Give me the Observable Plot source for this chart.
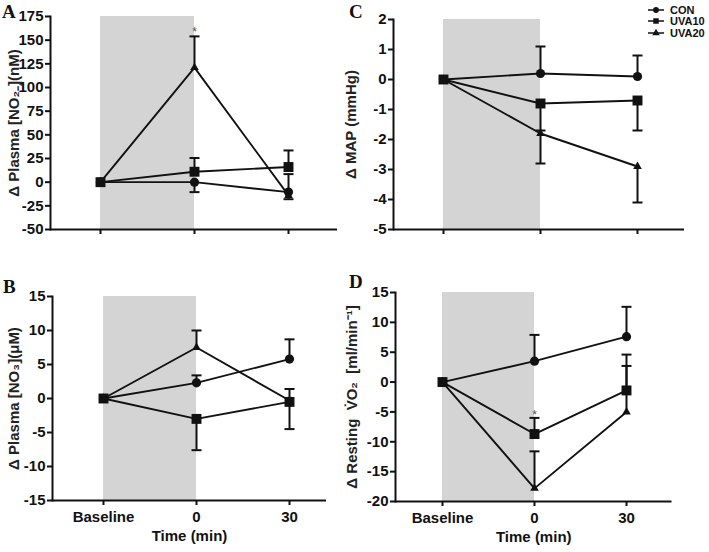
<!DOCTYPE html>
<html><head><meta charset="utf-8">
<script src="https://cdn.jsdelivr.net/npm/d3@7"></script>
<script src="https://cdn.jsdelivr.net/npm/@observablehq/plot@0.6"></script>
<style>
body{margin:0;background:#fff;}
#fig{position:relative;width:709px;height:552px;overflow:hidden;background:#fff;font-family:"Liberation Sans",Arial,sans-serif;}
.panel{position:absolute;}
.panel svg{max-width:none !important;overflow:visible;}
.letter{position:absolute;font-family:"Liberation Serif","Times New Roman",serif;font-weight:bold;font-size:19px;line-height:19px;color:#111;}
#legend{position:absolute;left:648px;top:4px;font-weight:bold;font-size:11px;color:#111;}
#legend .row{display:flex;align-items:center;height:11.5px;}
#legend svg{margin-right:6px;}
</style></head><body><div id="fig"></div>
<script>
// ---------- data ----------
const times = ["Baseline", "0", "30"];
const series = ["CON", "UVA10", "UVA20"];

// Panel A: Δ plasma nitrite (nM); *Err = end of the drawn error bar
const nitriteCON = [0, 0, -10.5];
const nitriteCONErr = [null, -10.5, 8.5];
const nitriteUVA10 = [0, 11, 16];
const nitriteUVA10Err = [null, 25.5, 33.5];
const nitriteUVA20 = [0, 121, -14];
const nitriteUVA20Err = [null, 154, -18];
const nitriteTicks = [-50, -25, 0, 25, 50, 75, 100, 125, 150, 175];
const nitriteStar = [{time: "0", y: 158}];

// Panel B: Δ plasma nitrate (µM)
const nitrateCON = [0, 2.3, 5.8];
const nitrateCONErr = [null, 3.4, 8.7];
const nitrateUVA10 = [0, -3.0, -0.5];
const nitrateUVA10Err = [null, -7.6, -4.5];
const nitrateUVA20 = [0, 7.5, -0.3];
const nitrateUVA20Err = [null, 10.0, 1.4];
const nitrateTicks = [-15, -10, -5, 0, 5, 10, 15];

// Panel C: Δ MAP (mmHg)
const mapCON = [0, 0.2, 0.1];
const mapCONErr = [null, 1.1, 0.8];
const mapUVA10 = [0, -0.8, -0.7];
const mapUVA10Err = [null, -1.7, -1.7];
const mapUVA20 = [0, -1.8, -2.9];
const mapUVA20Err = [null, -2.8, -4.1];
const mapTicks = [-5, -4, -3, -2, -1, 0, 1, 2];

// Panel D: Δ resting VO2 (ml/min)
const vo2CON = [0, 3.5, 7.6];
const vo2CONErr = [null, 7.9, 12.6];
const vo2UVA10 = [0, -8.7, -1.4];
const vo2UVA10Err = [null, -6.0, 4.6];
const vo2UVA20 = [0, -17.8, -5.0];
const vo2UVA20Err = [null, -11.6, 2.7];
const vo2Ticks = [-20, -15, -10, -5, 0, 5, 10, 15];
const vo2Star = [{time: "0", y: -5.5}];

const symbols = {CON: "circle", UVA10: "square", UVA20: "triangle"};
const symbolR = {CON: 4.6, UVA10: 5.6, UVA20: 3.2};

// horizontal cap symbol for error bars
const capSymbol = {draw(ctx) { ctx.moveTo(-5, 0); ctx.lineTo(5, 0); }};

function tidy(vals, errs) {
  const out = [];
  series.forEach((s, i) => times.forEach((t, j) => out.push({series: s, time: t, value: vals[i][j], err: errs[i][j]})));
  return out;
}

const FONT = "'Liberation Sans', Arial, sans-serif";

function panel(cfg) {
  const rows = tidy(cfg.vals, cfg.errs);
  const errRows = rows.filter(d => d.err != null);
  const [y0, y1] = [cfg.ticks[0], cfg.ticks[cfg.ticks.length - 1]];
  const marks = [
    Plot.rect([{x1: times[0], x2: times[1]}], {x1: "x1", x2: "x2", y1: y0, y2: y1, fill: "#d4d4d4"}),
    Plot.axisY({ticks: cfg.ticks, tickSize: 5, tickPadding: 2, strokeWidth: 2, label: null,
      tickFormat: d => String(d)}),
    Plot.axisX({tickSize: 5, tickPadding: 6, strokeWidth: 2, label: null,
      tickFormat: cfg.xLabels ? (d => d) : (() => "")}),
    Plot.frame({anchor: "left", stroke: "#111", strokeWidth: 2}),
    Plot.ruleY([y0], {stroke: "#111", strokeWidth: 2}),
    Plot.ruleX(errRows, {x: "time", y1: "value", y2: "err", stroke: "#111", strokeWidth: 2}),
    Plot.dot(errRows, {x: "time", y: "err", symbol: capSymbol, fill: "none", stroke: "#111", strokeWidth: 2}),
    Plot.line(rows, {x: "time", y: "value", z: "series", stroke: "#111", strokeWidth: 1.9}),
    ...["UVA20", "CON", "UVA10"].map(s => Plot.dot(rows.filter(d => d.series === s),
      {x: "time", y: "value", symbol: symbols[s], r: symbolR[s], fill: "#111", stroke: "none"})),
    Plot.text([cfg.yLabel], {frameAnchor: "left", textAnchor: "middle", lineAnchor: "middle", rotate: -90, dx: cfg.yLabelDx,
      text: d => d, fontSize: 15, fontWeight: "bold", fill: "#222"})
  ];
  if (cfg.xLabels) marks.push(Plot.text(["Time (min)"], {frameAnchor: "bottom", textAnchor: "middle", lineAnchor: "middle", dy: 36,
    text: d => d, fontSize: 15, fontWeight: "bold", fill: "#111"}));
  if (cfg.star) marks.push(Plot.text(cfg.star, {x: "time", y: "y", text: () => "*", fontSize: 12, fontWeight: "normal", fill: "#555"}));
  const chart = Plot.plot({
    width: cfg.width, height: cfg.height,
    marginLeft: cfg.m[0], marginRight: cfg.m[1], marginTop: cfg.m[2], marginBottom: cfg.m[3],
    x: {type: "point", domain: times, padding: cfg.pad, align: cfg.align},
    y: {domain: [y0, y1]},
    style: {fontFamily: FONT, fontSize: "15px", fontWeight: "bold", color: "#111", background: "transparent", overflow: "visible"},
    marks
  });
  const div = document.createElement("div");
  div.className = "panel";
  div.style.left = cfg.left + "px"; div.style.top = cfg.top + "px";
  div.style.width = cfg.width + "px"; div.style.height = cfg.height + "px";
  div.appendChild(chart);
  document.getElementById("fig").appendChild(div);
}

panel({left: 0, top: 0, width: 355, height: 270, m: [50, 18, 16, 41], pad: 0.5185, align: 0.51,
  vals: [nitriteCON, nitriteUVA10, nitriteUVA20], errs: [nitriteCONErr, nitriteUVA10Err, nitriteUVA20Err],
  ticks: nitriteTicks, xLabels: false, yLabel: "Δ Plasma [NO₂₋](nM)", yLabelDx: -36.5, star: nitriteStar});
panel({left: 0, top: 270, width: 335, height: 282, m: [52, 9, 26, 52], pad: 0.465, align: 0.575,
  vals: [nitrateCON, nitrateUVA10, nitrateUVA20], errs: [nitrateCONErr, nitrateUVA10Err, nitrateUVA20Err],
  ticks: nitrateTicks, xLabels: true, yLabel: "Δ Plasma [NO₃](μM)", yLabelDx: -38.5});
panel({left: 335, top: 0, width: 374, height: 270, m: [58, 25, 19, 41], pad: 0.485, align: 0.516,
  vals: [mapCON, mapUVA10, mapUVA20], errs: [mapCONErr, mapUVA10Err, mapUVA20Err],
  ticks: mapTicks, xLabels: false, yLabel: "Δ MAP (mmHg)", yLabelDx: -42});
panel({left: 335, top: 270, width: 374, height: 282, m: [60, 37.5, 22, 51], pad: 0.5, align: 0.506,
  vals: [vo2CON, vo2UVA10, vo2UVA20], errs: [vo2CONErr, vo2UVA10Err, vo2UVA20Err],
  ticks: vo2Ticks, xLabels: true, yLabel: "Δ Resting  V̇O₂  [ml/min⁻¹]", yLabelDx: -43, star: vo2Star});

// panel letters
const fig = document.getElementById("fig");
[["A", 2, 2], ["B", 3, 277], ["C", 349, 2], ["D", 349, 272]].forEach(([t, x, y]) => {
  const d = document.createElement("div");
  d.className = "letter"; d.textContent = t;
  d.style.left = x + "px"; d.style.top = y + "px";
  fig.appendChild(d);
});

// legend
const legend = document.createElement("div");
legend.id = "legend";
const d3sym = {CON: d3.symbolCircle, UVA10: d3.symbolSquare, UVA20: d3.symbolTriangle};
const legSize = {CON: 26, UVA10: 30, UVA20: 24};
series.forEach(s => {
  const row = document.createElement("div");
  row.className = "row";
  const svg = d3.create("svg").attr("width", 16).attr("height", 10);
  svg.append("line").attr("x1", 0).attr("x2", 16).attr("y1", 5).attr("y2", 5).attr("stroke", "#111").attr("stroke-width", 1.5);
  svg.append("path").attr("transform", "translate(8,5)").attr("d", d3.symbol(d3sym[s], legSize[s])()).attr("fill", "#111");
  row.appendChild(svg.node());
  const sp = document.createElement("span");
  sp.textContent = s;
  row.appendChild(sp);
  legend.appendChild(row);
});
fig.appendChild(legend);
</script></body></html>
